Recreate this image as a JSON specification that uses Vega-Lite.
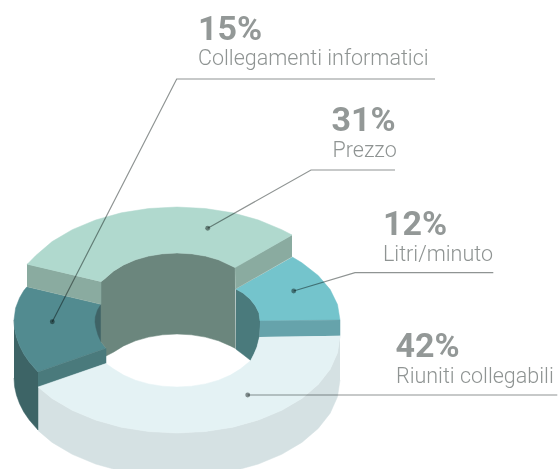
{"$schema":"https://vega.github.io/schema/vega-lite/v6.json","width":559,"height":469,"padding":0,"autosize":{"type":"none"},"background":"white","view":{"stroke":null},
"datasets":{"shapes":[
{"p":"whiteWall","x":340,"y":336},{"p":"whiteWall","x":337.5,"y":352.8},{"p":"whiteWall","x":330.2,"y":369.2},{"p":"whiteWall","x":318.2,"y":384.5},{"p":"whiteWall","x":301.9,"y":398.4},{"p":"whiteWall","x":281.8,"y":410.3},{"p":"whiteWall","x":258.5,"y":420},{"p":"whiteWall","x":232.7,"y":427.2},{"p":"whiteWall","x":205.3,"y":431.5},{"p":"whiteWall","x":177,"y":433},{"p":"whiteWall","x":148.7,"y":431.5},{"p":"whiteWall","x":121.3,"y":427.2},{"p":"whiteWall","x":95.5,"y":420},{"p":"whiteWall","x":72.2,"y":410.3},{"p":"whiteWall","x":52.1,"y":398.4},{"p":"whiteWall","x":38,"y":386.7},{"p":"whiteWall","x":38,"y":430.5},{"p":"whiteWall","x":52.1,"y":442.4},{"p":"whiteWall","x":72.2,"y":454.3},{"p":"whiteWall","x":95.5,"y":464},{"p":"whiteWall","x":121.3,"y":471.2},{"p":"whiteWall","x":148.7,"y":475.5},{"p":"whiteWall","x":177,"y":477},{"p":"whiteWall","x":205.3,"y":475.5},{"p":"whiteWall","x":232.7,"y":471.2},{"p":"whiteWall","x":258.5,"y":464},{"p":"whiteWall","x":281.8,"y":454.3},{"p":"whiteWall","x":301.9,"y":442.4},{"p":"whiteWall","x":318.2,"y":428.5},{"p":"whiteWall","x":330.2,"y":413.2},{"p":"whiteWall","x":337.5,"y":396.8},{"p":"whiteWall","x":340,"y":380},
{"p":"darkWall","x":14,"y":320},{"p":"darkWall","x":14.6,"y":328.7},{"p":"darkWall","x":16.5,"y":337.3},{"p":"darkWall","x":19.6,"y":345.8},{"p":"darkWall","x":23.8,"y":354},{"p":"darkWall","x":29.3,"y":362},{"p":"darkWall","x":38,"y":372},{"p":"darkWall","x":38,"y":430},{"p":"darkWall","x":29.3,"y":420},{"p":"darkWall","x":23.8,"y":412},{"p":"darkWall","x":19.6,"y":403.8},{"p":"darkWall","x":16.5,"y":395.3},{"p":"darkWall","x":14.6,"y":386.7},{"p":"darkWall","x":14,"y":378},
{"p":"tealTop","x":27,"y":286.7},{"p":"tealTop","x":23.8,"y":290.6},{"p":"tealTop","x":19.6,"y":297.7},{"p":"tealTop","x":15.6,"y":308},{"p":"tealTop","x":14,"y":320},{"p":"tealTop","x":14.6,"y":328.7},{"p":"tealTop","x":16.5,"y":337.3},{"p":"tealTop","x":19.6,"y":345.8},{"p":"tealTop","x":23.8,"y":354},{"p":"tealTop","x":29.3,"y":362},{"p":"tealTop","x":38,"y":372},{"p":"tealTop","x":106,"y":348.3},{"p":"tealTop","x":101,"y":341.7},{"p":"tealTop","x":101,"y":304.3},
{"p":"lens","x":101,"y":304.3},{"p":"lens","x":97.5,"y":310},{"p":"lens","x":95.3,"y":317},{"p":"lens","x":95,"y":322},{"p":"lens","x":96,"y":328},{"p":"lens","x":98,"y":335},{"p":"lens","x":101,"y":341.7},
{"p":"rightInner","x":235.7,"y":289},{"p":"rightInner","x":243,"y":293},{"p":"rightInner","x":250,"y":299},{"p":"rightInner","x":255.5,"y":306},{"p":"rightInner","x":259,"y":313},{"p":"rightInner","x":260,"y":320},{"p":"rightInner","x":260,"y":327},{"p":"rightInner","x":259.5,"y":337},{"p":"rightInner","x":257,"y":347},{"p":"rightInner","x":254,"y":354},{"p":"rightInner","x":250.7,"y":360.5},{"p":"rightInner","x":243,"y":354.5},{"p":"rightInner","x":235.7,"y":349},
{"p":"centerWall","x":235,"y":267.6},{"p":"centerWall","x":218.5,"y":259.8},{"p":"centerWall","x":205.4,"y":256.1},{"p":"centerWall","x":191.4,"y":253.8},{"p":"centerWall","x":177,"y":253},{"p":"centerWall","x":162.6,"y":253.8},{"p":"centerWall","x":148.6,"y":256.1},{"p":"centerWall","x":135.5,"y":259.8},{"p":"centerWall","x":123.6,"y":264.9},{"p":"centerWall","x":113.4,"y":271.2},{"p":"centerWall","x":105.1,"y":278.5},{"p":"centerWall","x":101,"y":281.7},{"p":"centerWall","x":101,"y":341.7},{"p":"centerWall","x":106,"y":348.3},{"p":"centerWall","x":106,"y":356},{"p":"centerWall","x":113.4,"y":352.2},{"p":"centerWall","x":123.6,"y":345.9},{"p":"centerWall","x":135.5,"y":340.8},{"p":"centerWall","x":148.6,"y":337.1},{"p":"centerWall","x":162.6,"y":334.8},{"p":"centerWall","x":177,"y":334},{"p":"centerWall","x":191.4,"y":334.8},{"p":"centerWall","x":205.4,"y":337.1},{"p":"centerWall","x":218.5,"y":340.8},{"p":"centerWall","x":230.4,"y":345.9},{"p":"centerWall","x":235.5,"y":348.5},
{"p":"stepWall","x":38,"y":372},{"p":"stepWall","x":106,"y":348.3},{"p":"stepWall","x":106,"y":363.5},{"p":"stepWall","x":38,"y":387.3},
{"p":"cyanTop","x":292.3,"y":257},{"p":"cyanTop","x":301.9,"y":262.8},{"p":"cyanTop","x":318.2,"y":275.5},{"p":"cyanTop","x":330.2,"y":289.6},{"p":"cyanTop","x":337.5,"y":304.5},{"p":"cyanTop","x":340,"y":320},{"p":"cyanTop","x":260,"y":321},{"p":"cyanTop","x":259,"y":313},{"p":"cyanTop","x":255.5,"y":306},{"p":"cyanTop","x":250,"y":299},{"p":"cyanTop","x":243,"y":293},{"p":"cyanTop","x":235.7,"y":289},
{"p":"cyanWall","x":260,"y":321},{"p":"cyanWall","x":340,"y":320},{"p":"cyanWall","x":340,"y":335.7},{"p":"cyanWall","x":259.5,"y":337},
{"p":"greenWallR","x":292,"y":235},{"p":"greenWallR","x":235,"y":267.3},{"p":"greenWallR","x":235.5,"y":289},{"p":"greenWallR","x":292,"y":256.7},
{"p":"greenWallL","x":27,"y":264},{"p":"greenWallL","x":101,"y":281.7},{"p":"greenWallL","x":101,"y":304.3},{"p":"greenWallL","x":27,"y":286.7},
{"p":"greenTop","x":27,"y":264.5},{"p":"greenTop","x":35.8,"y":255.5},{"p":"greenTop","x":52.1,"y":241.6},{"p":"greenTop","x":72.2,"y":229.7},{"p":"greenTop","x":95.5,"y":220},{"p":"greenTop","x":121.3,"y":212.8},{"p":"greenTop","x":148.7,"y":208.5},{"p":"greenTop","x":177,"y":207},{"p":"greenTop","x":205.3,"y":208.5},{"p":"greenTop","x":232.7,"y":212.8},{"p":"greenTop","x":258.5,"y":220},{"p":"greenTop","x":281.8,"y":229.7},{"p":"greenTop","x":292,"y":235},{"p":"greenTop","x":235,"y":267.6},{"p":"greenTop","x":218.5,"y":259.8},{"p":"greenTop","x":205.4,"y":256.1},{"p":"greenTop","x":191.4,"y":253.8},{"p":"greenTop","x":177,"y":253},{"p":"greenTop","x":162.6,"y":253.8},{"p":"greenTop","x":148.6,"y":256.1},{"p":"greenTop","x":135.5,"y":259.8},{"p":"greenTop","x":123.6,"y":264.9},{"p":"greenTop","x":113.4,"y":271.2},{"p":"greenTop","x":105.1,"y":278.5},{"p":"greenTop","x":101,"y":281.7},
{"p":"whiteTop","x":340,"y":335.7},{"p":"whiteTop","x":337.5,"y":352.8},{"p":"whiteTop","x":330.2,"y":369.2},{"p":"whiteTop","x":318.2,"y":384.5},{"p":"whiteTop","x":301.9,"y":398.4},{"p":"whiteTop","x":281.8,"y":410.3},{"p":"whiteTop","x":258.5,"y":420},{"p":"whiteTop","x":232.7,"y":427.2},{"p":"whiteTop","x":205.3,"y":431.5},{"p":"whiteTop","x":177,"y":433},{"p":"whiteTop","x":148.7,"y":431.5},{"p":"whiteTop","x":121.3,"y":427.2},{"p":"whiteTop","x":95.5,"y":420},{"p":"whiteTop","x":72.2,"y":410.3},{"p":"whiteTop","x":52.1,"y":398.4},{"p":"whiteTop","x":38,"y":387},{"p":"whiteTop","x":106,"y":363.5},{"p":"whiteTop","x":113.4,"y":368.8},{"p":"whiteTop","x":123.6,"y":375.1},{"p":"whiteTop","x":135.5,"y":380.2},{"p":"whiteTop","x":148.6,"y":383.9},{"p":"whiteTop","x":162.6,"y":386.2},{"p":"whiteTop","x":177,"y":387},{"p":"whiteTop","x":191.4,"y":386.2},{"p":"whiteTop","x":205.4,"y":383.9},{"p":"whiteTop","x":218.5,"y":380.2},{"p":"whiteTop","x":230.4,"y":375.1},{"p":"whiteTop","x":240.6,"y":368.8},{"p":"whiteTop","x":250.7,"y":360.5},{"p":"whiteTop","x":254,"y":354},{"p":"whiteTop","x":257,"y":347},{"p":"whiteTop","x":259.5,"y":337}
],
"leaders":[
{"l":"Collegamenti informatici","x":52.3,"y":321.7},{"l":"Collegamenti informatici","x":176.7,"y":79},{"l":"Collegamenti informatici","x":435,"y":79},
{"l":"Prezzo","x":207.7,"y":228.3},{"l":"Prezzo","x":311,"y":170},{"l":"Prezzo","x":395,"y":170},
{"l":"Litri/minuto","x":293.7,"y":291},{"l":"Litri/minuto","x":355,"y":272.7},{"l":"Litri/minuto","x":493.3,"y":272.7},
{"l":"Riuniti collegabili","x":247.7,"y":395},{"l":"Riuniti collegabili","x":557.3,"y":395}
],
"dots":[{"x":52.3,"y":321.7},{"x":207.7,"y":228.3},{"x":293.7,"y":291},{"x":247.7,"y":395}],
"pct":[{"t":"15%","x":198,"y":40},{"t":"31%","x":331.5,"y":130.7},{"t":"12%","x":383,"y":235},{"t":"42%","x":395.5,"y":356.7}],
"names":[{"t":"Collegamenti informatici","x":198,"y":65},{"t":"Prezzo","x":332.5,"y":156.7},{"t":"Litri/minuto","x":383,"y":261},{"t":"Riuniti collegabili","x":396,"y":382.7}]
},
"layer":[
{"data":{"name":"shapes"},"transform":[{"window":[{"op":"row_number","as":"i"}]}],"mark":{"type":"line","clip":true,"strokeWidth":0.5},"encoding":{
"x":{"field":"x","type":"quantitative","scale":{"domain":[0,559]},"axis":null},
"y":{"field":"y","type":"quantitative","scale":{"domain":[469,0]},"axis":null},
"order":{"field":"i","type":"quantitative"},
"detail":{"field":"p"},
"fill":{"field":"p","type":"nominal","legend":null,"sort":null,"scale":{"domain":["whiteWall","darkWall","tealTop","lens","rightInner","centerWall","stepWall","cyanTop","cyanWall","greenWallR","greenWallL","greenTop","whiteTop"],"range":["#D5E1E3","#3D6466","#528B90","#3F6366","#4A7A7C","#6B867D","#4A7A7C","#74C4CC","#66A3AB","#8AABA0","#8AABA0","#B0D9CE","#E4F2F4"]}},
"stroke":{"field":"p","type":"nominal","legend":null,"sort":null,"scale":{"domain":["whiteWall","darkWall","tealTop","lens","rightInner","centerWall","stepWall","cyanTop","cyanWall","greenWallR","greenWallL","greenTop","whiteTop"],"range":["#D5E1E3","#3D6466","#528B90","#3F6366","#4A7A7C","#6B867D","#4A7A7C","#74C4CC","#66A3AB","#8AABA0","#8AABA0","#B0D9CE","#E4F2F4"]}}
}},
{"data":{"name":"leaders"},"mark":{"type":"line","color":"#8F9493","strokeWidth":1.2,"blend":"multiply"},"encoding":{
"x":{"field":"x","type":"quantitative","scale":{"domain":[0,559]},"axis":null},
"y":{"field":"y","type":"quantitative","scale":{"domain":[469,0]},"axis":null},
"order":null,"detail":{"field":"l"}}},
{"data":{"name":"dots"},"mark":{"type":"point","filled":true,"opacity":1,"color":"#8F9493","size":24,"shape":"circle","blend":"multiply"},"encoding":{
"x":{"field":"x","type":"quantitative","scale":{"domain":[0,559]},"axis":null},
"y":{"field":"y","type":"quantitative","scale":{"domain":[469,0]},"axis":null}}},
{"data":{"name":"pct"},"mark":{"type":"text","align":"left","baseline":"alphabetic","font":"Roboto","fontWeight":"bold","fontSize":34,"color":"#939897"},"encoding":{
"x":{"field":"x","type":"quantitative","scale":{"domain":[0,559]},"axis":null},
"y":{"field":"y","type":"quantitative","scale":{"domain":[469,0]},"axis":null},
"text":{"field":"t"}}},
{"data":{"name":"names"},"mark":{"type":"text","align":"left","baseline":"alphabetic","font":"Roboto","fontWeight":300,"fontSize":21.5,"color":"#8F9493"},"encoding":{
"x":{"field":"x","type":"quantitative","scale":{"domain":[0,559]},"axis":null},
"y":{"field":"y","type":"quantitative","scale":{"domain":[469,0]},"axis":null},
"text":{"field":"t"}}}
]}
